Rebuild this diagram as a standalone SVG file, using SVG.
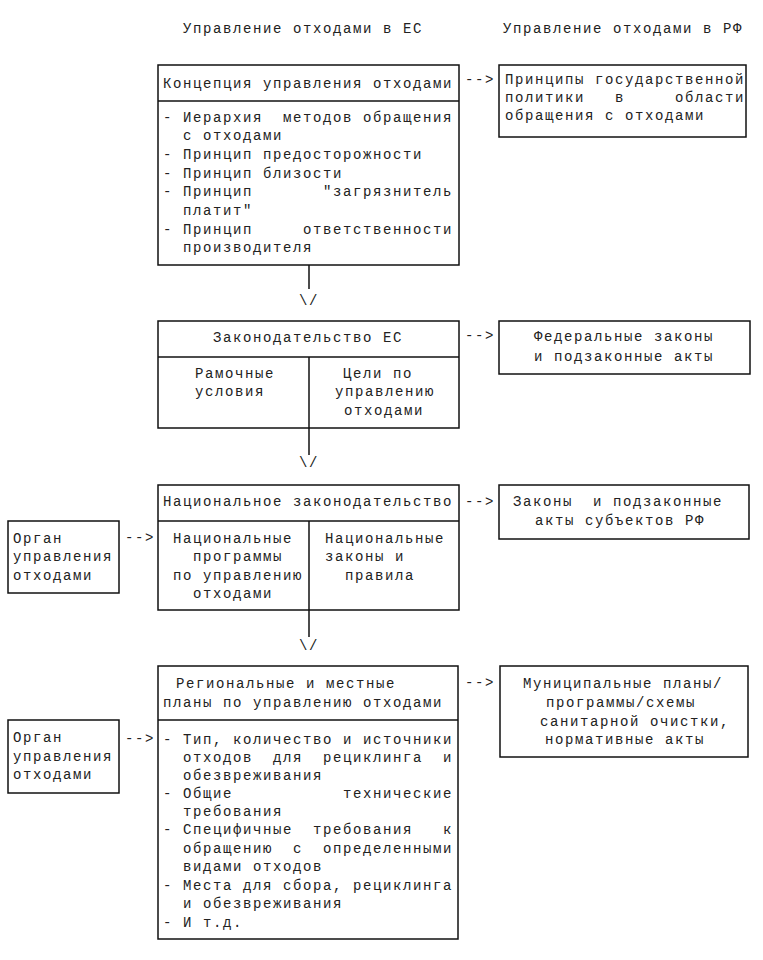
<svg xmlns="http://www.w3.org/2000/svg" width="763" height="960" viewBox="0 0 763 960">
<style>
  text { font-family: "Liberation Mono", "Courier New", monospace; font-size: 14px; letter-spacing: 1.6px; fill: #222; white-space: pre; }
  .box { fill: #fff; stroke: #111; stroke-width: 1.5; }
  .ln { stroke: #111; stroke-width: 1.5; fill: none; }
</style>
<rect width="763" height="960" fill="#fff"/>

<g id="titles">
  <text x="183" y="33">Управление отходами в ЕС</text>
  <text x="503" y="33">Управление отходами в РФ</text>
</g>

<g id="n1">
  <rect class="box" x="158" y="65" width="301" height="200"/>
  <line class="ln" x1="158" y1="101" x2="459" y2="101"/>
  <text x="163" y="88">Концепция управления отходами</text>
  <text x="163" y="121.5" xml:space="preserve">- Иерархия  методов обращения</text>
  <text x="163" y="140" xml:space="preserve">  с отходами</text>
  <text x="163" y="158.5" xml:space="preserve">- Принцип предосторожности</text>
  <text x="163" y="177.5" xml:space="preserve">- Принцип близости</text>
  <text x="163" y="196" xml:space="preserve">- Принцип       "загрязнитель</text>
  <text x="163" y="214.5" xml:space="preserve">  платит"</text>
  <text x="163" y="233.5" xml:space="preserve">- Принцип     ответственности</text>
  <text x="163" y="252" xml:space="preserve">  производителя</text>
</g>

<g id="n1r">
  <rect class="box" x="499" y="65" width="247" height="72"/>
  <text x="505" y="84">Принципы государственной</text>
  <text x="505" y="102" xml:space="preserve">политики   в     области</text>
  <text x="505" y="119.5">обращения с отходами</text>
</g>

<g id="n2">
  <rect class="box" x="158" y="321" width="301" height="107"/>
  <line class="ln" x1="158" y1="357" x2="459" y2="357"/>
  <line class="ln" x1="309" y1="357" x2="309" y2="428"/>
  <text x="213" y="342">Законодательство ЕС</text>
  <text x="195" y="378">Рамочные</text>
  <text x="195" y="396">условия</text>
  <text x="343" y="378">Цели по</text>
  <text x="335" y="396">управлению</text>
  <text x="344" y="415">отходами</text>
</g>

<g id="n2r">
  <rect class="box" x="499" y="321" width="251" height="53"/>
  <text x="534" y="340.5">Федеральные законы</text>
  <text x="534" y="361">и подзаконные акты</text>
</g>

<g id="n3">
  <rect class="box" x="158" y="485" width="301" height="125"/>
  <line class="ln" x1="158" y1="521" x2="459" y2="521"/>
  <line class="ln" x1="309" y1="521" x2="309" y2="610"/>
  <text x="163" y="506">Национальное законодательство</text>
  <text x="173" y="543">Национальные</text>
  <text x="193" y="561">программы</text>
  <text x="173" y="580">по управлению</text>
  <text x="193" y="597.5">отходами</text>
  <text x="325" y="543">Национальные</text>
  <text x="325" y="561">законы и</text>
  <text x="345" y="580">правила</text>
</g>

<g id="n3l">
  <rect class="box" x="8" y="521" width="111" height="72"/>
  <text x="13" y="543">Орган</text>
  <text x="13" y="561">управления</text>
  <text x="13" y="580">отходами</text>
</g>

<g id="n3r">
  <rect class="box" x="499" y="485" width="250" height="54"/>
  <text x="513" y="506" xml:space="preserve">Законы  и подзаконные</text>
  <text x="535" y="525">акты субъектов РФ</text>
</g>

<g id="n4">
  <rect class="box" x="158" y="666" width="300" height="273"/>
  <line class="ln" x1="158" y1="720" x2="458" y2="720"/>
  <text x="176" y="688">Региональные и местные</text>
  <text x="163" y="707">планы по управлению отходами</text>
  <text x="163" y="743.5" xml:space="preserve">- Тип, количество и источники</text>
  <text x="163" y="761.5" xml:space="preserve">  отходов  для  рециклинга  и</text>
  <text x="163" y="779.5" xml:space="preserve">  обезвреживания</text>
  <text x="163" y="797.5" xml:space="preserve">- Общие           технические</text>
  <text x="163" y="816" xml:space="preserve">  требования</text>
  <text x="163" y="834" xml:space="preserve">- Специфичные  требования   к</text>
  <text x="163" y="852.5" xml:space="preserve">  обращению  с  определенными</text>
  <text x="163" y="871" xml:space="preserve">  видами отходов</text>
  <text x="163" y="889.5" xml:space="preserve">- Места для сбора, рециклинга</text>
  <text x="163" y="908" xml:space="preserve">  и обезвреживания</text>
  <text x="163" y="926.5" xml:space="preserve">- И т.д.</text>
</g>

<g id="n4l">
  <rect class="box" x="8" y="720" width="111" height="73"/>
  <text x="13" y="742">Орган</text>
  <text x="13" y="761">управления</text>
  <text x="13" y="779">отходами</text>
</g>

<g id="n4r">
  <rect class="box" x="500" y="666" width="248" height="91"/>
  <text x="523" y="688">Муниципальные планы/</text>
  <text x="546" y="707">программы/схемы</text>
  <text x="540" y="726">санитарной очистки,</text>
  <text x="545" y="744">нормативные акты</text>
</g>

<g id="connectors">
  <text x="465" y="84">--&gt;</text>
  <text x="465" y="340">--&gt;</text>
  <text x="465" y="506">--&gt;</text>
  <text x="465" y="687">--&gt;</text>
  <text x="125" y="542">--&gt;</text>
  <text x="125" y="743">--&gt;</text>
  <line class="ln" x1="309" y1="265" x2="309" y2="289"/>
  <text x="299" y="305">\/</text>
  <line class="ln" x1="309" y1="428" x2="309" y2="455"/>
  <text x="299" y="467">\/</text>
  <line class="ln" x1="309" y1="610" x2="309" y2="637"/>
  <text x="299" y="650">\/</text>
</g>
</svg>
